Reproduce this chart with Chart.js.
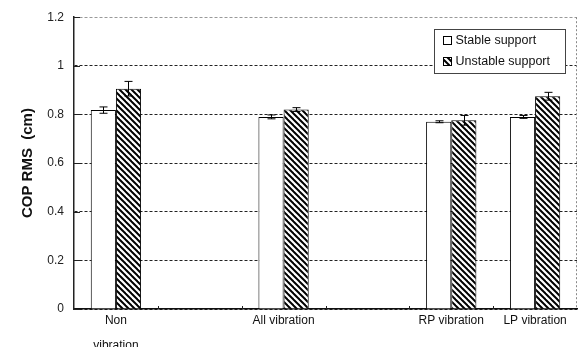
<!DOCTYPE html>
<html>
<head>
<meta charset="utf-8">
<script src="https://cdn.jsdelivr.net/npm/chart.js"></script>
<style>
  html, body { margin: 0; padding: 0; background: #fff; }
  #wrap { width: 581px; height: 347px; }
</style>
</head>
<body>
<div id="wrap"><canvas id="copChart" width="581" height="347"></canvas></div>
<script>
// categories (two empty slots keep the original spacing)
const categories = [['Non', 'vibration'], '', 'All vibration', '', 'RP vibration', 'LP vibration'];
const seriesNames = ['Stable support', 'Unstable support'];
const stableValues = [0.818, null, 0.79, null, 0.77, 0.79];
const stableErrors = [0.013, null, 0.008, null, 0.004, 0.006];
const unstableValues = [0.906, null, 0.82, null, 0.776, 0.875];
const unstableErrors = [0.03, null, 0.008, null, 0.02, 0.016];
const yTicks = [0, 0.2, 0.4, 0.6, 0.8, 1, 1.2];

const FONT = '"Liberation Sans", Arial, sans-serif';

function hatchPattern() {
  const s = 6;
  const c = document.createElement('canvas');
  c.width = s;
  c.height = s;
  const g = c.getContext('2d');
  g.fillStyle = '#fff';
  g.fillRect(0, 0, s, s);
  g.strokeStyle = '#000';
  g.lineWidth = 2;
  for (let k = -1; k <= 1; k++) {
    g.beginPath();
    g.moveTo(-1, k * s - 1);
    g.lineTo(s + 1, k * s + s + 1);
    g.stroke();
  }
  return g.createPattern(c, 'repeat');
}

const hatch = hatchPattern();

// error bars, inner ticks, right frame and the boxed legend
const extrasPlugin = {
  id: 'extras',
  afterDatasetsDraw(chart) {
    const ctx = chart.ctx;
    const y = chart.scales.y;
    const errors = [stableErrors, unstableErrors];
    const values = [stableValues, unstableValues];
    ctx.save();
    ctx.strokeStyle = '#000';
    ctx.lineWidth = 1;
    errors.forEach((errs, d) => {
      chart.getDatasetMeta(d).data.forEach((bar, i) => {
        if (values[d][i] == null) return;
        const x = Math.round(bar.x) + 0.5;
        const top = y.getPixelForValue(values[d][i] + errs[i]);
        const bot = y.getPixelForValue(values[d][i] - errs[i]);
        ctx.beginPath();
        ctx.moveTo(x, top);
        ctx.lineTo(x, bot);
        ctx.moveTo(x - 4, top);
        ctx.lineTo(x + 4, top);
        ctx.moveTo(x - 4, bot);
        ctx.lineTo(x + 4, bot);
        ctx.stroke();
      });
    });
    ctx.restore();
  },
  afterDraw(chart) {
    const ctx = chart.ctx;
    const area = chart.chartArea;
    const x = chart.scales.x;
    const y = chart.scales.y;
    ctx.save();

    // right frame
    ctx.strokeStyle = '#888';
    ctx.lineWidth = 1;
    ctx.setLineDash([2, 2]);
    ctx.beginPath();
    ctx.moveTo(Math.round(area.right) - 0.5, area.top);
    ctx.lineTo(Math.round(area.right) - 0.5, area.bottom);
    ctx.stroke();
    ctx.setLineDash([]);

    // inner ticks on y
    ctx.strokeStyle = '#222';
    y.ticks.forEach((t) => {
      const py = Math.round(y.getPixelForValue(t.value)) + 0.5;
      ctx.beginPath();
      ctx.moveTo(area.left, py);
      ctx.lineTo(area.left + 6, py);
      ctx.stroke();
    });

    // small ticks between categories
    for (let i = 0; i < categories.length - 1; i++) {
      const px = Math.round((x.getPixelForValue(i) + x.getPixelForValue(i + 1)) / 2) + 0.5;
      ctx.beginPath();
      ctx.moveTo(px, area.bottom);
      ctx.lineTo(px, area.bottom - 3);
      ctx.stroke();
    }

    // legend
    const bw = 131, bh = 44;
    const bx = Math.round(area.right) - 143 + 0.5;
    const by = Math.round(area.top) + 12 + 0.5;
    ctx.fillStyle = '#fff';
    ctx.fillRect(bx, by, bw, bh);
    ctx.strokeStyle = '#444';
    ctx.strokeRect(bx, by, bw, bh);
    ctx.font = '12.5px ' + FONT;
    ctx.textBaseline = 'middle';
    seriesNames.forEach((name, i) => {
      const cy = by + 11 + i * 21;
      ctx.fillStyle = i === 0 ? '#fff' : hatch;
      ctx.fillRect(bx + 9, cy - 4, 8, 8);
      ctx.strokeStyle = '#000';
      ctx.strokeRect(bx + 9, cy - 4, 8, 8);
      ctx.fillStyle = '#111';
      ctx.fillText(name, bx + 21, cy);
    });
    ctx.restore();
  }
};

function chartInit() {
  const el = document.getElementById('copChart');

  new Chart(el, {
    type: 'bar',
    data: {
      labels: categories,
      datasets: [
        {
          label: seriesNames[0],
          data: stableValues,
          backgroundColor: '#fff',
          borderColor: '#000',
          borderWidth: 1,
        },
        {
          label: seriesNames[1],
          data: unstableValues,
          backgroundColor: hatch,
          borderColor: '#000',
          borderWidth: 1,
        }
      ]
    },
    options: {
      responsive: false,
      animation: false,
      categoryPercentage: 0.6,
      barPercentage: 1.0,
      layout: {
        padding: { left: 0, right: 4, top: 13, bottom: 0 }
      },
      scales: {
        x: {
          grid: { display: false, drawTicks: false },
          border: { display: true, color: '#111', width: 1.5 },
          ticks: {
            color: '#111',
            font: { family: FONT, size: 12, lineHeight: 2.1 },
            padding: -1,
            maxRotation: 0,
            autoSkip: false,
          },
          afterFit: (s) => { s.height = 38; }
        },
        y: {
          min: 0,
          max: 1.2,
          afterBuildTicks: (s) => { s.ticks = yTicks.map((v) => ({ value: v })); },
          grid: {
            drawTicks: false,
            color: (c) => (c.tick && c.tick.value === 1.2 ? '#999' : '#222'),
            lineWidth: 1,
          },
          border: { display: true, color: '#222', width: 1.5, dash: [3, 2] },
          ticks: {
            color: '#222',
            font: { family: FONT, size: 12 },
            padding: 10,
            callback: (v) => String(+v.toFixed(1)),
          },
          title: {
            display: true,
            text: 'COP RMS  (cm)',
            color: '#111',
            font: { family: FONT, size: 15, weight: 'bold' },
            padding: { top: 19, bottom: 0 },
          },
          afterFit: (s) => { s.width = 74; }
        }
      },
      plugins: {
        legend: { display: false },
        tooltip: { enabled: false }
      }
    },
    plugins: [extrasPlugin]
  });
}

document.addEventListener('DOMContentLoaded', () => {
  chartInit();
});
</script>
</body>
</html>
